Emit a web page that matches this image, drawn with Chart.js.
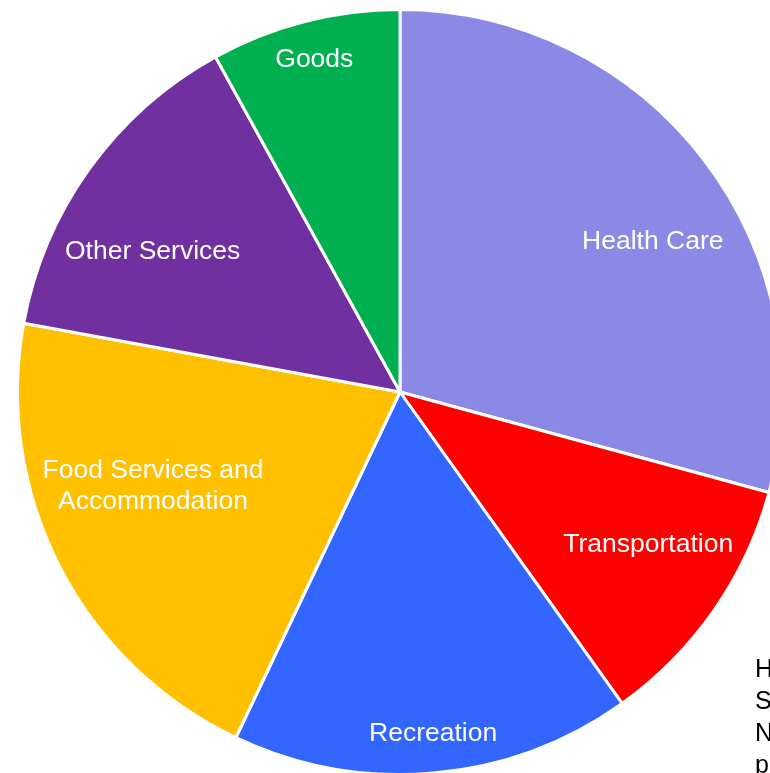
<!DOCTYPE html>
<html>
<head>
<meta charset="utf-8">
<script src="https://cdn.jsdelivr.net/npm/chart.js@4"></script>
<style>
  html, body { margin: 0; padding: 0; background: #fff; overflow: hidden; width: 770px; height: 773px; }
  #wrap { position: absolute; left: 0; top: 0; width: 800px; height: 800px; }
  #note { position: absolute; left: 755px; top: 652px; font: 25px "Liberation Sans", Arial, sans-serif;
          line-height: 32px; color: #000; white-space: nowrap; }
</style>
</head>
<body>
<div id="wrap"><canvas id="pie" width="800" height="800"></canvas></div>
<div id="note">H<br>S<br>N<br>p</div>
<script>
(function () {
  "use strict";

  // ── Data ─────────────────────────────────────────────────────────
  const categories = ["Health Care", "Transportation", "Recreation", "Food Services and Accommodation", "Other Services", "Goods"];
  const shares = [29.2, 10.9, 16.9, 20.8, 14.1, 8.0];
  const labelLines = [["Health Care"], ["Transportation"], ["Recreation"], ["Food Services and", "Accommodation"], ["Other Services"], ["Goods"]];

  const COLORS = ["#8A8AE6", "#FF0000", "#3366FF", "#FFC000", "#7030A0", "#00B050"];
  // label placement: angle shift (deg) and radius fraction per slice
  const LABEL_SHIFT = [6.5, -3.5, -0.5, 6.5, -6, 0];
  const LABEL_RADIUS = [0.77, 0.76, 0.895, 0.69, 0.745, 0.90];

  const sliceLabels = {
    id: "sliceLabels",
    afterDatasetsDraw(chart) {
      const ctx = chart.ctx;
      const meta = chart.getDatasetMeta(0);
      ctx.save();
      ctx.fillStyle = "#fff";
      ctx.font = "26.5px 'Liberation Sans', Arial, sans-serif";
      ctx.textAlign = "center";
      ctx.textBaseline = "middle";
      meta.data.forEach(function (arc, i) {
        const mid = (arc.startAngle + arc.endAngle) / 2 + LABEL_SHIFT[i] * Math.PI / 180;
        const r = arc.outerRadius * LABEL_RADIUS[i];
        const x = arc.x + Math.cos(mid) * r;
        const y = arc.y + Math.sin(mid) * r + 1;
        const lines = labelLines[i];
        lines.forEach(function (line, k) {
          ctx.fillText(line, x, y + (k - (lines.length - 1) / 2) * 31);
        });
      });
      ctx.restore();
    }
  };

  new Chart(document.getElementById("pie"), {
    type: "pie",
    data: {
      labels: categories,
      datasets: [{
        data: shares,
        backgroundColor: COLORS,
        borderColor: "#fff",
        borderWidth: 3
      }]
    },
    options: {
      responsive: false,
      animation: false,
      layout: { padding: { left: 16, top: 8, right: 16, bottom: 24 } },
      plugins: { legend: { display: false }, tooltip: { enabled: false } }
    },
    plugins: [sliceLabels]
  });
})();
</script>
</body>
</html>
